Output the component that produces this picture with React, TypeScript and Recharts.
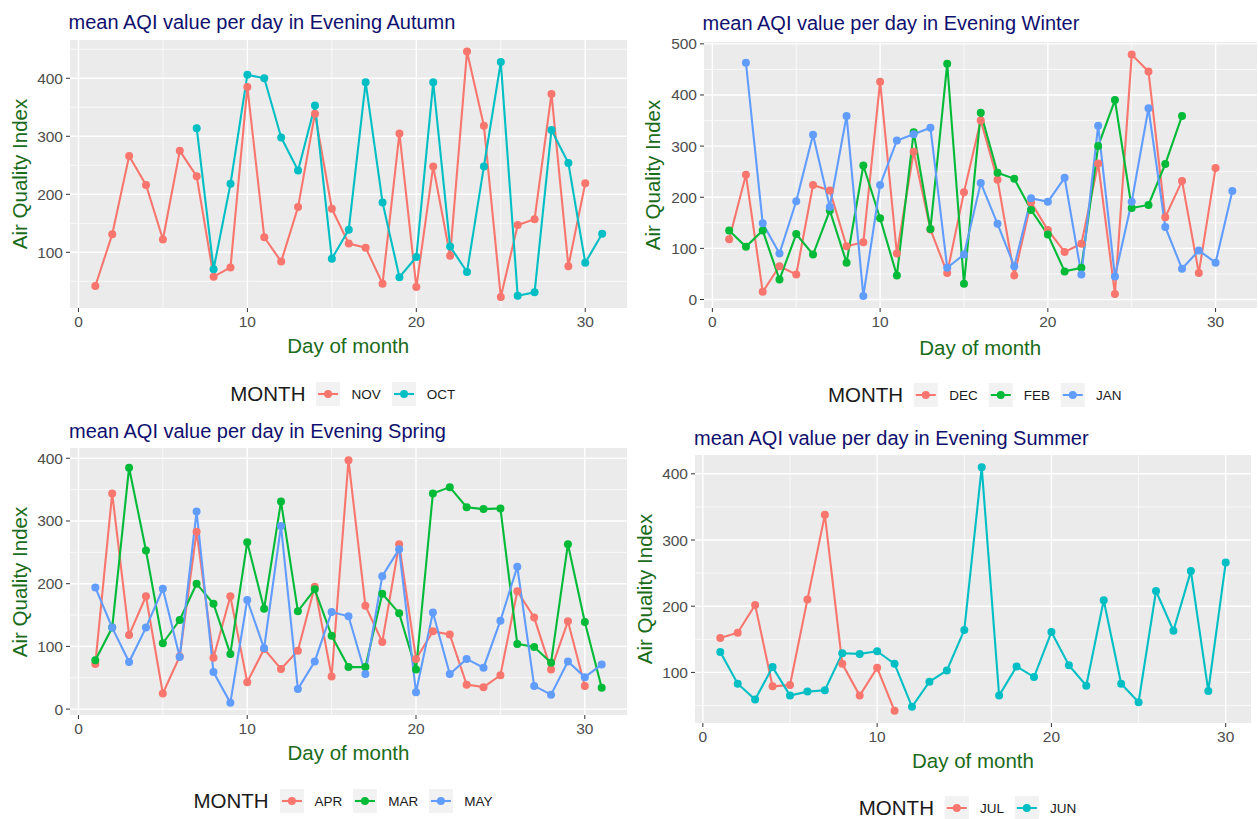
import React from 'react';
import { LineChart, Line, XAxis, YAxis, CartesianGrid } from 'recharts';

// values per day of month (index 0 = day 1), null = no reading
const nov = [42, 131, 266, 216, 122, 275, 231, 58, 74, 385, 126, 84, 178, 339, 175, 115, 108, 46, 305, 40, 248, 94, 446, 318, 23, 147, 157, 373, 76, 219];
const oct = [null, null, null, null, null, null, 314, 71, 218, 406, 400, 298, 241, 353, 89, 139, 393, 186, 57, 92, 393, 110, 66, 248, 428, 25, 31, 311, 254, 82, 132];

const dec = [118, 244, 15, 65, 49, 224, 213, 104, 112, 426, 90, 289, 137, 52, 210, 350, 234, 47, 190, 136, 93, 109, 266, 11, 479, 446, 161, 232, 52, 257];
const feb = [135, 103, 135, 39, 128, 88, 174, 72, 262, 159, 47, 327, 138, 461, 31, 365, 248, 236, 175, 127, 55, 62, 300, 390, 179, 185, 265, 359];
const jan = [null, 463, 149, 90, 192, 322, 181, 359, 7, 224, 311, 323, 336, 62, 88, 228, 148, 65, 198, 191, 238, 49, 340, 45, 191, 374, 142, 60, 96, 72, 212];

const apr = [72, 344, 118, 180, 25, 84, 283, 82, 180, 43, 96, 64, 93, 195, 52, 397, 165, 107, 263, 80, 124, 119, 39, 35, 54, 188, 146, 63, 140, 37];
const mar = [78, 130, 385, 253, 105, 142, 200, 168, 88, 266, 160, 331, 156, 191, 117, 67, 67, 184, 153, 63, 344, 354, 322, 319, 320, 104, 99, 74, 263, 139, 34];
const may = [194, 130, 75, 130, 192, 83, 315, 59, 10, 174, 97, 292, 32, 76, 155, 148, 56, 212, 255, 27, 154, 56, 80, 66, 141, 227, 37, 23, 76, 51, 71];

const jul = [152, 160, 202, 79, 81, 210, 338, 113, 65, 107, 42];
const jun = [131, 83, 59, 108, 65, 71, 73, 129, 128, 132, 113, 48, 86, 103, 164, 410, 65, 109, 93, 161, 111, 80, 209, 83, 55, 223, 163, 253, 72, 266];

const xTicks = [0, 10, 20, 30];
const xMinor = [5, 15, 25];

const RED = '#F8766D';
const TEAL = '#00BFC4';
const GREEN = '#00BA38';
const BLUE = '#619CFF';

const FONT = '"Liberation Sans", Arial, sans-serif';
const AXIS_W = 50;
const AXIS_H = 34;
const PAD_TOP = 12;

type Series = { name: string; values: (number | null)[]; color: string };

type PanelProps = {
  title: string;
  box: { x0: number; x1: number; y0: number; y1: number };
  xDomain: [number, number];
  yDomain: [number, number];
  yTicks: number[];
  yMinor: number[];
  series: Series[];
  titleY: number;
  yLabelX: number;
  xLabelY: number;
  legendY: number;
};

const buildRows = (series: Series[]) => {
  const rows: Record<string, number | null>[] = [];
  for (let d = 1; d <= 31; d++) {
    const row: Record<string, number | null> = { day: d };
    series.forEach((s) => {
      const v = s.values[d - 1];
      row[s.name] = v === undefined ? null : v;
    });
    rows.push(row);
  }
  return rows;
};

const Panel = ({ title, box, xDomain, yDomain, yTicks, yMinor, series, titleY, yLabelX, xLabelY, legendY }: PanelProps) => {
  const rows = buildRows(series);
  const cx = (box.x0 + box.x1) / 2;
  const cy = (box.y0 + box.y1) / 2;
  const tick = { fill: '#4D4D4D', fontSize: 15.5, fontFamily: FONT };
  return (
    <>
      <div style={{ position: 'absolute', left: box.x0 - 1, top: titleY, transform: 'translateY(-50%)', color: '#10106e', fontSize: 20, fontFamily: FONT, whiteSpace: 'nowrap' }}>
        {title}
      </div>
      <div style={{ position: 'absolute', left: box.x0 - AXIS_W, top: box.y0 - PAD_TOP }}>
        <LineChart width={box.x1 - box.x0 + AXIS_W} height={box.y1 - box.y0 + AXIS_H + PAD_TOP} data={rows} margin={{ top: PAD_TOP, right: 0, bottom: 0, left: 0 }}>
          <CartesianGrid fill="#EBEBEB" stroke="#FFFFFF" strokeWidth={0.7} horizontalValues={yMinor} verticalValues={xMinor} />
          <CartesianGrid stroke="#FFFFFF" strokeWidth={1.4} horizontalValues={yTicks} verticalValues={xTicks} />
          <XAxis type="number" dataKey="day" domain={xDomain} ticks={xTicks} allowDataOverflow interval={0} height={AXIS_H}
            axisLine={false} tickLine={{ stroke: '#333333' }} tickSize={4} tickMargin={4} tick={tick} />
          <YAxis type="number" domain={yDomain} ticks={yTicks} allowDataOverflow interval={0} width={AXIS_W}
            axisLine={false} tickLine={{ stroke: '#333333' }} tickSize={4} tickMargin={3} tick={tick} />
          {series.map((s) => (
            <Line key={s.name} type="linear" dataKey={s.name} stroke={s.color} strokeWidth={2.1}
              dot={{ r: 4, fill: s.color, stroke: s.color, strokeWidth: 0 }} activeDot={false} isAnimationActive={false} />
          ))}
        </LineChart>
      </div>
      <div style={{ position: 'absolute', left: yLabelX, top: cy, transform: 'translate(-50%, -50%) rotate(-90deg)', color: '#1a6b1a', fontSize: 20.5, fontFamily: FONT, whiteSpace: 'nowrap' }}>
        Air Quality Index
      </div>
      <div style={{ position: 'absolute', left: cx, top: xLabelY, transform: 'translate(-50%, -50%)', color: '#1a6b1a', fontSize: 20.5, fontFamily: FONT, whiteSpace: 'nowrap' }}>
        Day of month
      </div>
      <div style={{ position: 'absolute', left: cx, top: legendY, transform: 'translate(-50%, -50%)', display: 'flex', alignItems: 'center', fontFamily: FONT, whiteSpace: 'nowrap' }}>
        <span style={{ fontSize: 20.5, color: '#1a1a1a', marginRight: 11 }}>MONTH</span>
        {series.map((s) => (
          <span key={s.name} style={{ display: 'flex', alignItems: 'center' }}>
            <svg width={24} height={24} style={{ background: '#F2F2F2' }}>
              <line x1={2} x2={22} y1={12} y2={12} stroke={s.color} strokeWidth={2.1} />
              <circle cx={12} cy={12} r={4} fill={s.color} />
            </svg>
            <span style={{ fontSize: 13.5, color: '#1a1a1a', marginLeft: 11, marginRight: 11 }}>{s.name}</span>
          </span>
        ))}
      </div>
    </>
  );
};

export default function App() {
  return (
    <div style={{ position: 'absolute', left: 0, top: 0, width: 1258, height: 819, background: '#FFFFFF', overflow: 'hidden' }}>
      <Panel
        title="mean AQI value per day in Evening Autumn"
        box={{ x0: 69.5, x1: 627, y0: 40, y1: 308 }}
        xDomain={[-0.5, 32.5]}
        yDomain={[4, 466]}
        yTicks={[100, 200, 300, 400]}
        yMinor={[50, 150, 250, 350, 450]}
        series={[{ name: 'NOV', values: nov, color: RED }, { name: 'OCT', values: oct, color: TEAL }]}
        titleY={22}
        yLabelX={20}
        xLabelY={346}
        legendY={394}
      />
      <Panel
        title="mean AQI value per day in Evening Winter"
        box={{ x0: 703.5, x1: 1257, y0: 42, y1: 308 }}
        xDomain={[-0.5, 32.5]}
        yDomain={[-16.6, 503.6]}
        yTicks={[0, 100, 200, 300, 400, 500]}
        yMinor={[50, 150, 250, 350, 450]}
        series={[{ name: 'DEC', values: dec, color: RED }, { name: 'FEB', values: feb, color: GREEN }, { name: 'JAN', values: jan, color: BLUE }]}
        titleY={23}
        yLabelX={653}
        xLabelY={348}
        legendY={395}
      />
      <Panel
        title="mean AQI value per day in Evening Spring"
        box={{ x0: 70, x1: 627, y0: 448, y1: 715 }}
        xDomain={[-0.5, 32.5]}
        yDomain={[-9.4, 416.4]}
        yTicks={[0, 100, 200, 300, 400]}
        yMinor={[50, 150, 250, 350]}
        series={[{ name: 'APR', values: apr, color: RED }, { name: 'MAR', values: mar, color: GREEN }, { name: 'MAY', values: may, color: BLUE }]}
        titleY={431}
        yLabelX={20}
        xLabelY={753}
        legendY={801}
      />
      <Panel
        title="mean AQI value per day in Evening Summer"
        box={{ x0: 695, x1: 1251, y0: 455, y1: 723 }}
        xDomain={[-0.45, 31.45]}
        yDomain={[23.6, 428.4]}
        yTicks={[100, 200, 300, 400]}
        yMinor={[50, 150, 250, 350]}
        series={[{ name: 'JUL', values: jul, color: RED }, { name: 'JUN', values: jun, color: TEAL }]}
        titleY={438}
        yLabelX={645}
        xLabelY={761}
        legendY={808}
      />
    </div>
  );
}
